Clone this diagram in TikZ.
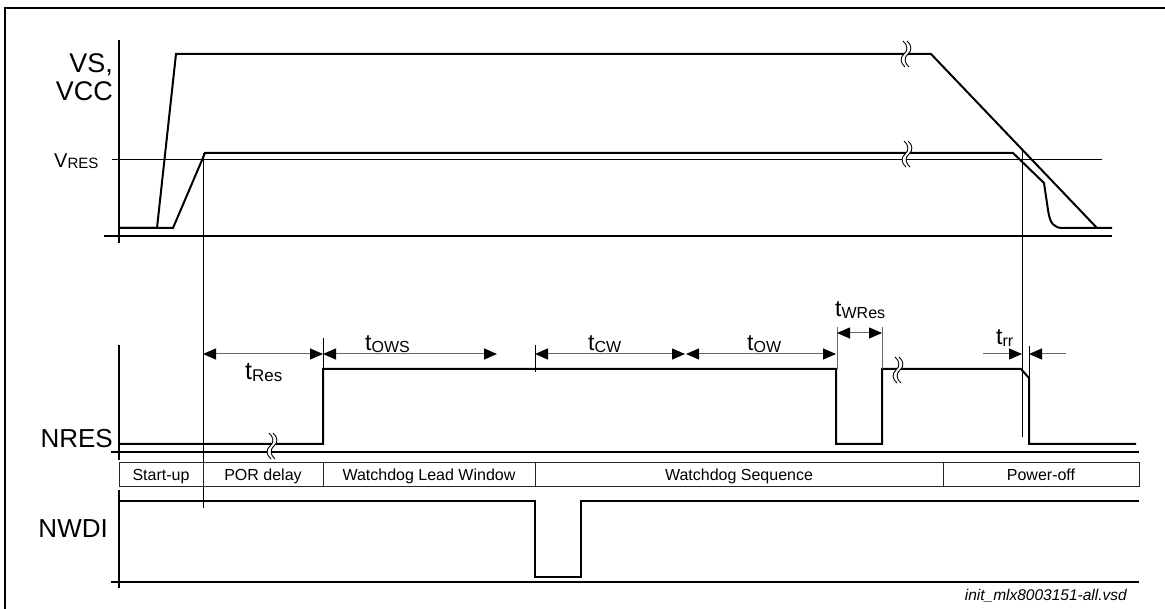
\documentclass[tikz,border=0pt]{standalone}
\usepackage{fontspec}
\setmainfont{Liberation Sans}
\usetikzlibrary{arrows.meta}
\newcommand{\fsz}[1]{\fontsize{#1}{#1}\selectfont}
\newcommand{\tlab}[3]{\fsz{#1}t\raisebox{-1.5pt}{\fsz{#2}#3}}
\begin{document}
\begin{tikzpicture}[x=1pt,y=-1pt,
  trace/.style={line width=2pt, line join=miter},
  thinline/.style={line width=1pt},
  axisline/.style={line width=1.8pt},
  greyline/.style={line width=1pt, draw=black!60},
  dim/.style={line width=1pt, draw=black!60,
    {Triangle[length=13pt,width=11pt,color=black]}-{Triangle[length=13pt,width=11pt,color=black]}},
  halfdim/.style={line width=1pt, draw=black!60, -{Triangle[length=13pt,width=11pt,color=black]}},
  lbl/.style={inner sep=0pt},
  cell/.style={inner sep=0pt, anchor=base, font=\fsz{16}},
  brk/.pic={
    \fill[white] (-3,-13) .. controls (2,-9) and (2,-3) .. (-2,0) .. controls (-6,3) and (-6,9) .. (-1,13)
      -- (3,13) .. controls (-2,9) and (-2,3) .. (2,0) .. controls (6,-3) and (6,-9) .. (1,-13) -- cycle;
    \draw[line width=0.9pt] (-3,-13) .. controls (2,-9) and (2,-3) .. (-2,0) .. controls (-6,3) and (-6,9) .. (-1,13);
    \draw[line width=0.9pt] (1,-13) .. controls (6,-9) and (6,-3) .. (2,0) .. controls (-2,3) and (-2,9) .. (3,13);
  }
]
\useasboundingbox (0,0) rectangle (1165,609);
% frame
\draw[line width=2.5pt] (5,609) -- (5,8) -- (1165,8);

% ---------- VS / VCC ----------
\draw[axisline] (119,40) -- (119,243);
\draw[axisline] (104,236) -- (1112,236);
\draw[thinline] (112,160) -- (1102,160);
\draw[trace] (119,228) -- (157,228) -- (176,54) -- (931,54) -- (1097,228) -- (1112,228);
\draw[trace] (119,228) -- (173,228) -- (205,153) -- (1013,153) -- (1044,183) -- (1048,210)
   .. controls (1050,224) and (1054,228) .. (1063,228) -- (1097,228);
\pic at (906,54) {brk};
\pic at (907,154) {brk};

% marker lines
\draw[thinline] (203,153) -- (203,508);
\draw[thinline] (1022,150) -- (1022,437);

\node[lbl, anchor=base east, font=\fsz{27}] (vs) at (113,73) {VS,};
\node[lbl, anchor=base east, font=\fsz{27}] (vcc) at (113,101) {VCC};
\node[lbl, anchor=base west] (vres) at (54,168) {\fsz{20}V\raisebox{-0.5pt}{\fsz{15}RES}};

% ---------- NRES ----------
\draw[axisline] (119,345) -- (119,460);
\draw[axisline] (111,452) -- (1139,452);
\draw[trace] (119,444) -- (323,444) -- (323,369) -- (836,369) -- (836,444) -- (882,444) -- (882,369)
   -- (1021,369) -- (1029,378) -- (1029,444) -- (1136,444);
\pic at (272,446) {brk};
\pic at (898,370) {brk};
\node[lbl, anchor=base east, font=\fsz{26}] (nres) at (113,448) {NRES};

% extension lines
\draw[thinline] (323,338) -- (323,369);
\draw[thinline] (535,345) -- (535,372);
\draw[greyline] (837,327) -- (837,369);
\draw[greyline] (882,327) -- (882,369);
\draw[thinline] (1029,346) -- (1029,378);

% dimension arrows
\coordinate (r1) at (203,354); \coordinate (r2) at (323,354);
\coordinate (o1) at (323,354); \coordinate (o2) at (497,354);
\coordinate (c1) at (535,354); \coordinate (c2) at (685,354);
\coordinate (w1) at (686,354); \coordinate (w2) at (836,354);
\coordinate (x1) at (837,333); \coordinate (x2) at (882,333);
\coordinate (q1) at (983,354); \coordinate (q2) at (1022,354);
\coordinate (q3) at (1066,354); \coordinate (q4) at (1029,354);
\draw[dim] (r1) -- (r2);
\draw[dim] (o1) -- (o2);
\draw[dim] (c1) -- (c2);
\draw[dim] (w1) -- (w2);
\draw[dim] (x1) -- (x2);
\draw[halfdim] (q1) -- (q2);
\draw[halfdim] (q3) -- (q4);

\node[lbl, anchor=base west] (tres) at (245,380) {\tlab{25}{17}{Res}};
\node[lbl, anchor=base west] (tows) at (365,351) {\tlab{23}{16}{OWS}};
\node[lbl, anchor=base west] (tcw) at (588,351) {\tlab{23}{16}{CW}};
\node[lbl, anchor=base west] (tow) at (747,351) {\tlab{23}{16}{OW}};
\node[lbl, anchor=base west] (twres) at (835,317) {\tlab{23}{16}{WRes}};
\node[lbl, anchor=base west] (trr) at (996,345) {\tlab{23}{16}{rr}};

% ---------- phase table ----------
\draw[thinline, draw=black!85] (119,463) rectangle (1139,486);
\foreach \xx in {203,323,535,943} \draw[thinline, draw=black!85] (\xx,463) -- (\xx,486);
\node[cell] (p1) at (161,480) {Start-up};
\node[cell] (p2) at (263,480) {POR delay};
\node[cell] (p3) at (429,480) {Watchdog Lead Window};
\node[cell] (p4) at (739,480) {Watchdog Sequence};
\node[cell] (p5) at (1041,480) {Power-off};

% ---------- NWDI ----------
\draw[axisline] (119,490) -- (119,588);
\draw[axisline] (111,582) -- (1139,582);
\draw[trace] (119,501) -- (535,501) -- (535,577) -- (581,577) -- (581,501) -- (1139,501);
\node[lbl, anchor=base east, font=\fsz{26}] (nwdi) at (108,537) {NWDI};

\node[lbl, anchor=base east, font=\fsz{15.5}\itshape] (fname) at (1127,600) {init\_mlx8003151-all.vsd};
\end{tikzpicture}
\end{document}
